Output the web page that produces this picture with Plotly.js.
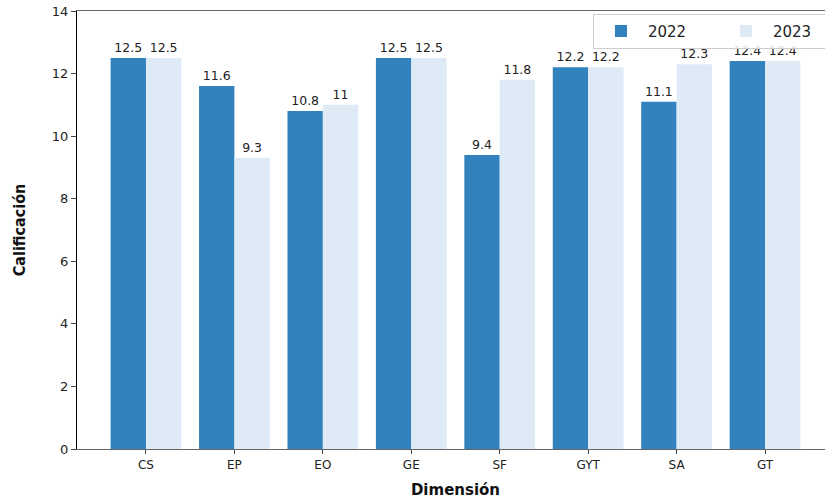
<!DOCTYPE html>
<html><head><meta charset="utf-8">
<script src="https://cdn.plot.ly/plotly-3.0.1.min.js"></script>
<style>html,body{margin:0;background:#fff;overflow:hidden;width:825px;height:502px}#c{width:870px;height:502px}</style>
</head><body><div id="c"></div>
<script>
const categories = ["CS","EP","EO","GE","SF","GYT","SA","GT"];
const values2022 = [12.5,11.6,10.8,12.5,9.4,12.2,11.1,12.4];
const values2023 = [12.5,9.3,11,12.5,11.8,12.2,12.3,12.4];
const seriesNames = ["2022","2023"];
const yTicks = [0,2,4,6,8,10,12,14];

const idx = categories.map((_,i)=>i);
const mk = (vals,name,color)=>({
  type:'bar', x:idx, y:vals, name:name,
  marker:{color:color, line:{width:0}},
  text:vals.map(v=>String(v)), textposition:'outside', cliponaxis:false,
  textfont:{family:'DejaVu Sans', size:12.5, color:'#222'}
});
const data = [mk(values2022,seriesNames[0],'#3182bd'), mk(values2023,seriesNames[1],'#deebf7')];
const layout = {
  width:870, height:502,
  margin:{l:77, r:36, t:11, b:53},
  paper_bgcolor:'#fff', plot_bgcolor:'#fff',
  barmode:'group', bargap:0.2, bargroupgap:0,
  font:{family:'DejaVu Sans', color:'#222'},
  xaxis:{range:[-0.78,7.78], tickvals:idx, ticktext:categories, showgrid:false, zeroline:false,
    showline:true, linecolor:'#666', linewidth:1.2, mirror:true, ticks:'outside', ticklen:4, tickcolor:'#444',
    tickfont:{size:12, color:'#222'},
    title:{text:'<b>Dimensión</b>', font:{family:'DejaVu Sans', size:15, color:'#111'}, standoff:14}},
  yaxis:{range:[0,14], tickvals:yTicks, showgrid:false, zeroline:false,
    showline:true, linecolor:'#000', linewidth:1.2, ticks:'outside', ticklen:5, tickcolor:'#444',
    tickfont:{size:13, color:'#222'},
    title:{text:'<b>Calificación</b>', font:{family:'DejaVu Sans Condensed, Roboto Condensed, Open Sans Condensed, sans-serif', size:16, color:'#111'}, standoff:22}},
  legend:{orientation:'h', x:0.6816, y:0.994, xanchor:'left', yanchor:'top',
    bordercolor:'#ccc', borderwidth:1, bgcolor:'rgba(255,255,255,0.85)', font:{size:15, color:'#222'},
    itemwidth:44, entrywidth:66, entrywidthmode:'pixels', tracegroupgap:0},
  showlegend:true
};
Plotly.newPlot('c', data, layout, {displayModeBar:false, staticPlot:true});
</script></body></html>
